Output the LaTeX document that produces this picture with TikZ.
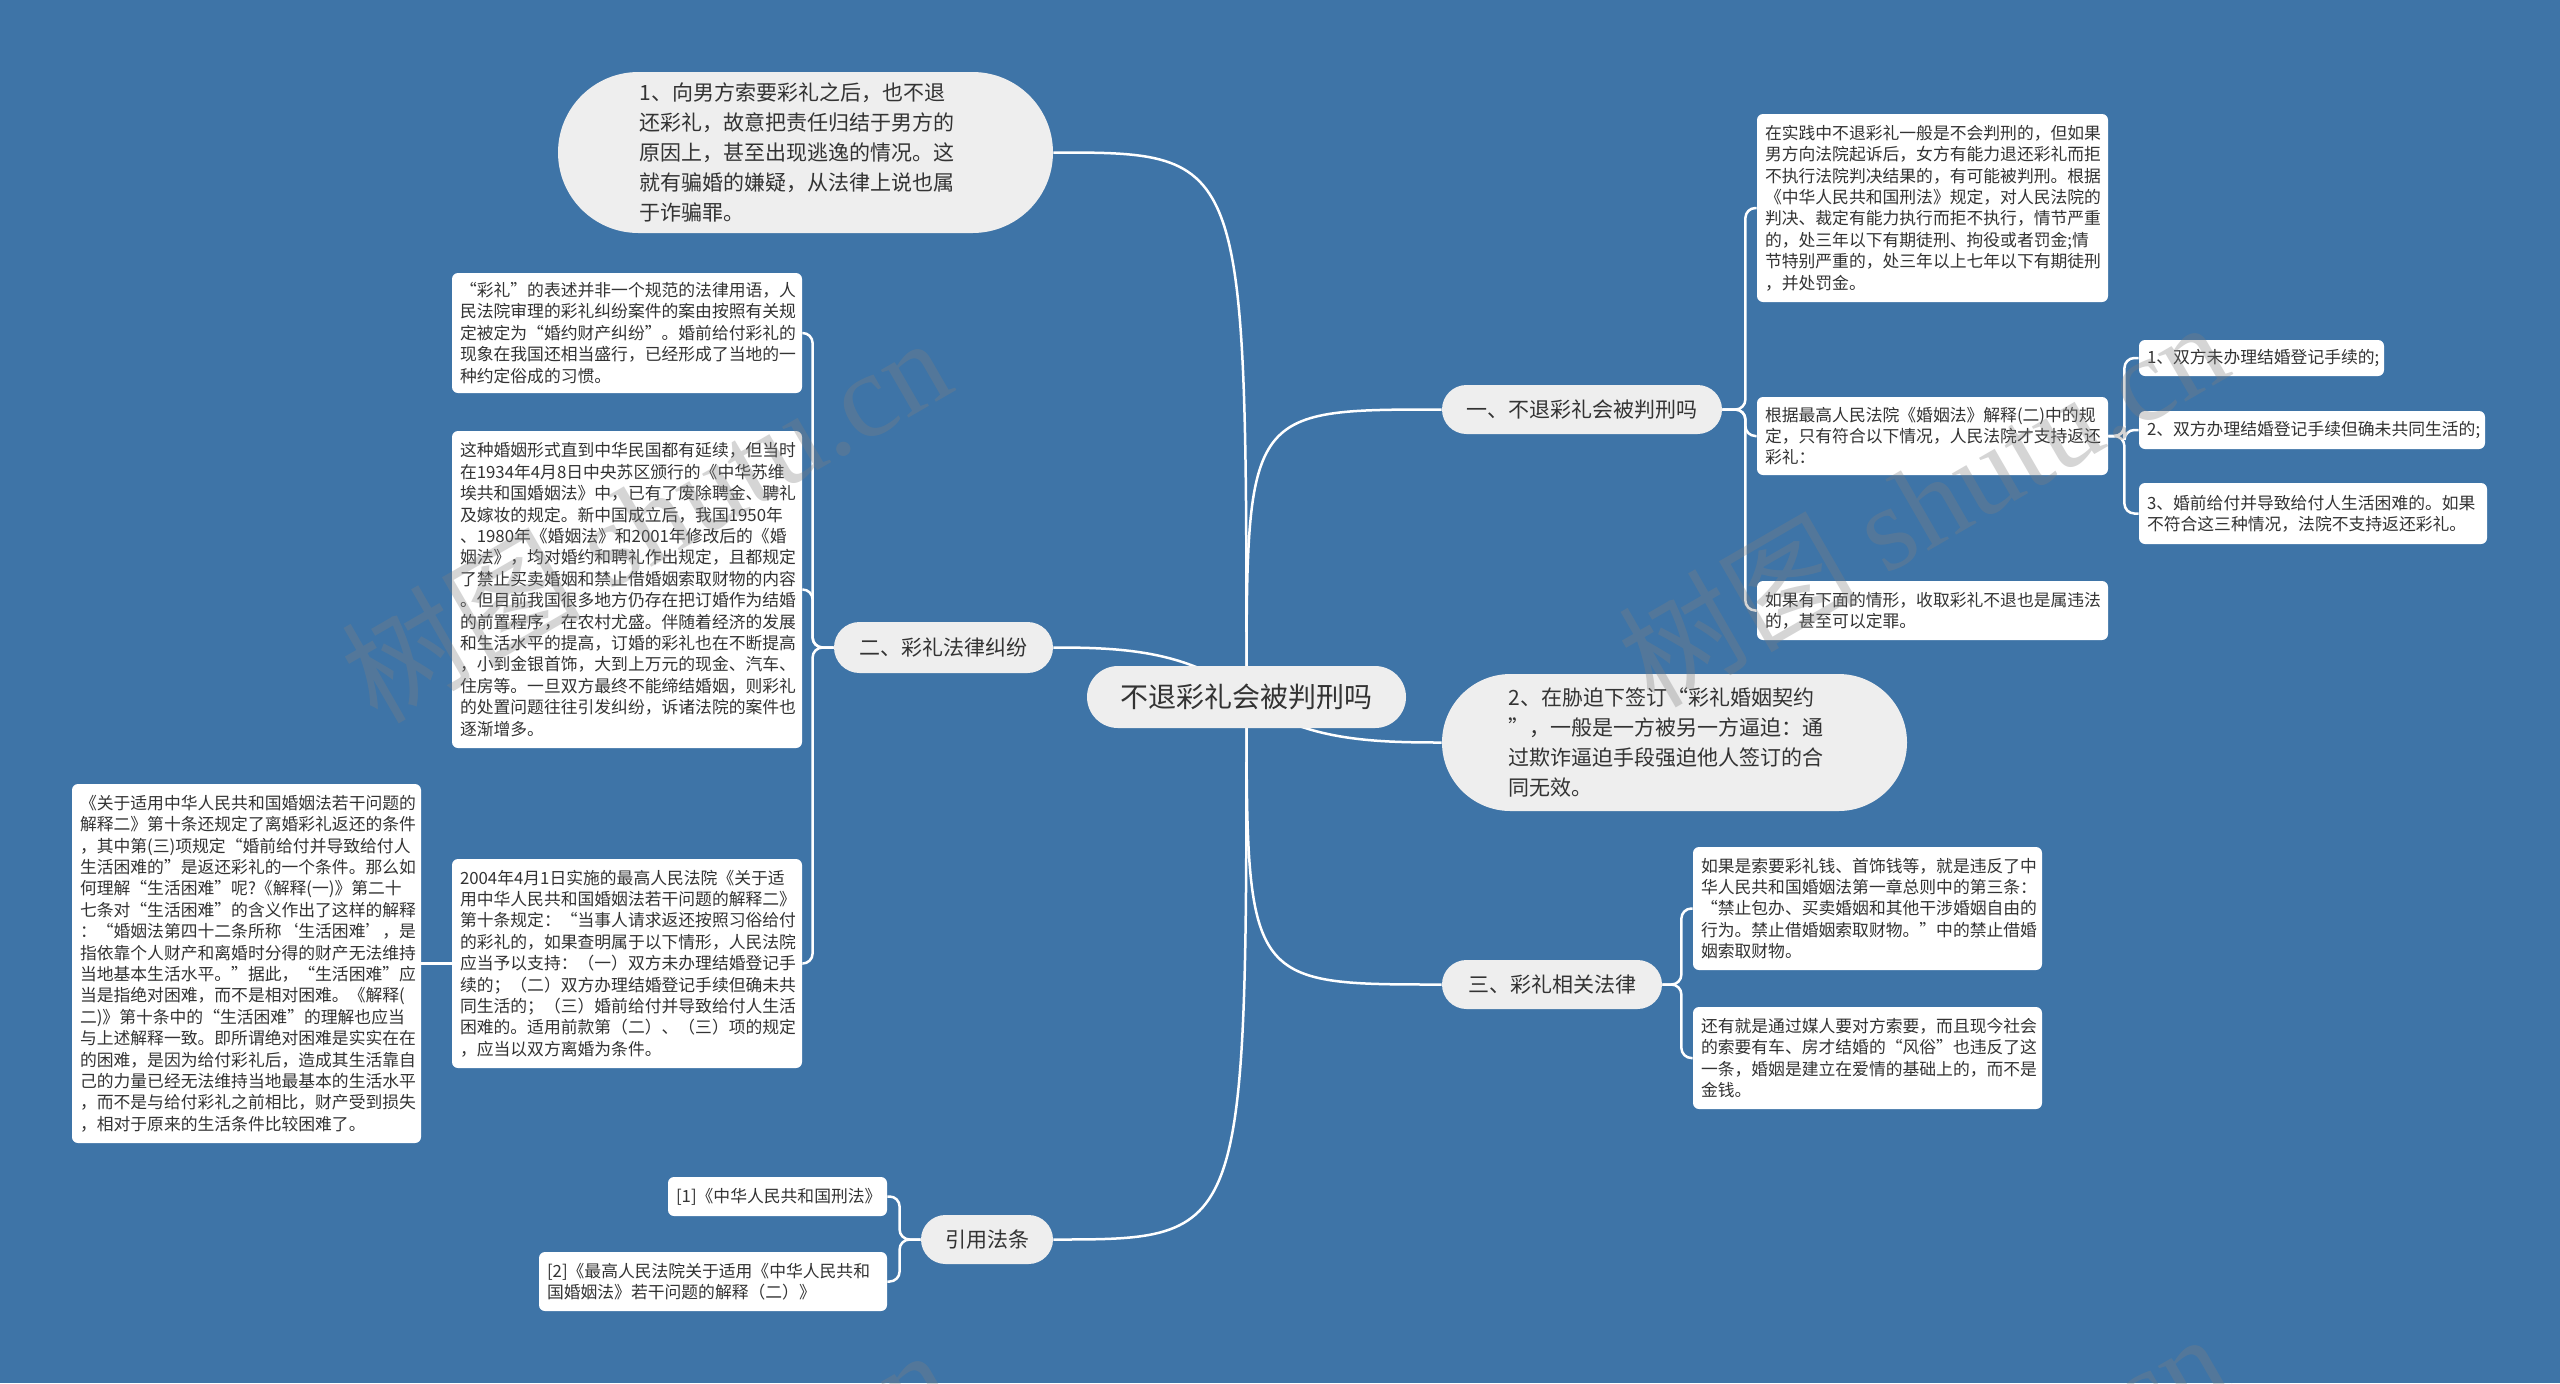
\documentclass[tikz,border=0pt]{standalone}
\usepackage{fontspec}
\setmainfont{Noto Sans CJK SC}
\newfontfamily\wmlatin{Liberation Serif}
\usetikzlibrary{shapes.misc}
\definecolor{bgc}{HTML}{3E74A7}
\definecolor{pillc}{HTML}{EEEEEE}
\definecolor{txtc}{HTML}{333333}
\pgfdeclarelayer{bglayer}
\pgfdeclarelayer{linelayer}
\pgfdeclarelayer{wmlayer}
\pgfsetlayers{bglayer,linelayer,main,wmlayer}
\tikzset{
 conn/.style={draw=white, line width=1.25pt, rounded corners=5pt},
 connc/.style={draw=white, line width=1.25pt},
 leaf/.style={fill=white, rounded corners=3pt, inner xsep=4pt, inner ysep=0pt, align=left, text=txtc, font=\fontsize{8.4pt}{10.7pt}\selectfont},
 lone/.style={rounded rectangle, fill=pillc, text=txtc, inner sep=0pt, font=\fontsize{10.5pt}{12pt}\selectfont},
 bigpill/.style={rounded rectangle, fill=pillc, text=txtc, inner sep=0pt, align=left, text width=166pt, font=\fontsize{10.5pt}{14.9pt}\selectfont},
 wmark/.style={text=gray, text opacity=0.33, rotate=30, font=\fontsize{60pt}{60pt}\selectfont, inner sep=0pt}
}
\begin{document}
\begin{tikzpicture}[x=0.5pt,y=-0.5pt]
\begin{pgfonlayer}{bglayer}
\fill[bgc] (0,0) rectangle (2560,1383);
\end{pgfonlayer}
\useasboundingbox (0,0) rectangle (2560,1383);

% central and first level
\node[lone, minimum width=159.5pt, minimum height=31pt, font=\fontsize{14pt}{16pt}\selectfont] (root) at (1246.5,697) {不退彩礼会被判刑吗};
\node[bigpill, minimum width=247.5pt, minimum height=80.5pt] (t1) at (805.5,152.5) {1、向男方索要彩礼之后，也不退\\还彩礼，故意把责任归结于男方的\\原因上，甚至出现逃逸的情况。这\\就有骗婚的嫌疑，从法律上说也属\\于诈骗罪。};
\node[bigpill, minimum width=232.5pt, minimum height=68.5pt] (r0) at (1674.5,742.5) {2、在胁迫下签订“彩礼婚姻契约\\”，一般是一方被另一方逼迫：通\\过欺诈逼迫手段强迫他人签订的合\\同无效。};
\node[lone, minimum width=140pt, minimum height=24.5pt] (one) at (1582,409.5) {一、不退彩礼会被判刑吗};
\node[lone, minimum width=109.5pt, minimum height=25.5pt] (two) at (943.5,647.5) {二、彩礼法律纠纷};
\node[lone, minimum width=110pt, minimum height=24.5pt] (three) at (1552,984.5) {三、彩礼相关法律};
\node[lone, minimum width=66pt, minimum height=24.5pt] (cite) at (987,1239.5) {引用法条};

% left leaves
\node[leaf, minimum width=175pt, minimum height=60pt, text width=167pt] (l1) at (627,333) {“彩礼”的表述并非一个规范的法律用语，人\\民法院审理的彩礼纠纷案件的案由按照有关规\\定被定为“婚约财产纠纷”。婚前给付彩礼的\\现象在我国还相当盛行，已经形成了当地的一\\种约定俗成的习惯。};
\node[leaf, minimum width=175pt, minimum height=158.5pt, text width=167pt] (l2) at (627,589.5) {这种婚姻形式直到中华民国都有延续，但当时\\在1934年4月8日中央苏区颁行的《中华苏维\\埃共和国婚姻法》中，已有了废除聘金、聘礼\\及嫁妆的规定。新中国成立后，我国1950年\\、1980年《婚姻法》和2001年修改后的《婚\\姻法》，均对婚约和聘礼作出规定，且都规定\\了禁止买卖婚姻和禁止借婚姻索取财物的内容\\。但目前我国很多地方仍存在把订婚作为结婚\\的前置程序，在农村尤盛。伴随着经济的发展\\和生活水平的提高，订婚的彩礼也在不断提高\\，小到金银首饰，大到上万元的现金、汽车、\\住房等。一旦双方最终不能缔结婚姻，则彩礼\\的处置问题往往引发纠纷，诉诸法院的案件也\\逐渐增多。};
\node[leaf, minimum width=175pt, minimum height=104.5pt, text width=167pt] (l3) at (627,963.5) {2004年4月1日实施的最高人民法院《关于适\\用中华人民共和国婚姻法若干问题的解释二》\\第十条规定：“当事人请求返还按照习俗给付\\的彩礼的，如果查明属于以下情形，人民法院\\应当予以支持：（一）双方未办理结婚登记手\\续的；（二）双方办理结婚登记手续但确未共\\同生活的；（三）婚前给付并导致给付人生活\\困难的。适用前款第（二）、（三）项的规定\\，应当以双方离婚为条件。};
\node[leaf, minimum width=174.5pt, minimum height=179.5pt, text width=166.5pt] (l4) at (246.5,963.5) {《关于适用中华人民共和国婚姻法若干问题的\\解释二》第十条还规定了离婚彩礼返还的条件\\，其中第(三)项规定“婚前给付并导致给付人\\生活困难的”是返还彩礼的一个条件。那么如\\何理解“生活困难”呢?《解释(一)》第二十\\七条对“生活困难”的含义作出了这样的解释\\：“婚姻法第四十二条所称‘生活困难’，是\\指依靠个人财产和离婚时分得的财产无法维持\\当地基本生活水平。”据此，“生活困难”应\\当是指绝对困难，而不是相对困难。《解释(\\二)》第十条中的“生活困难”的理解也应当\\与上述解释一致。即所谓绝对困难是实实在在\\的困难，是因为给付彩礼后，造成其生活靠自\\己的力量已经无法维持当地最基本的生活水平\\，而不是与给付彩礼之前相比，财产受到损失\\，相对于原来的生活条件比较困难了。};

% right leaves
\node[leaf, minimum width=175.5pt, minimum height=94pt, text width=167.5pt] (ra) at (1932.5,208) {在实践中不退彩礼一般是不会判刑的，但如果\\男方向法院起诉后，女方有能力退还彩礼而拒\\不执行法院判决结果的，有可能被判刑。根据\\《中华人民共和国刑法》规定，对人民法院的\\判决、裁定有能力执行而拒不执行，情节严重\\的，处三年以下有期徒刑、拘役或者罚金;情\\节特别严重的，处三年以上七年以下有期徒刑\\，并处罚金。};
\node[leaf, minimum width=175.5pt, minimum height=39pt, text width=167.5pt] (rb) at (1932.5,436) {根据最高人民法院《婚姻法》解释(二)中的规\\定，只有符合以下情况，人民法院才支持返还\\彩礼：};
\node[leaf, minimum width=175.5pt, minimum height=29.5pt, text width=167.5pt] (rc) at (1932.5,610.5) {如果有下面的情形，收取彩礼不退也是属违法\\的，甚至可以定罪。};
\node[leaf, minimum width=122.5pt, minimum height=18pt, text width=114.5pt] (rb1) at (2261.5,358) {1、双方未办理结婚登记手续的;};
\node[leaf, minimum width=173pt, minimum height=19pt, text width=165pt] (rb2) at (2312,430) {2、双方办理结婚登记手续但确未共同生活的;};
\node[leaf, minimum width=174pt, minimum height=30.5pt, text width=166pt] (rb3) at (2313,513.5) {3、婚前给付并导致给付人生活困难的。如果\\不符合这三种情况，法院不支持返还彩礼。};
\node[leaf, minimum width=174.5pt, minimum height=61.5pt, text width=166.5pt] (s1) at (1867.5,908.5) {如果是索要彩礼钱、首饰钱等，就是违反了中\\华人民共和国婚姻法第一章总则中的第三条：\\“禁止包办、买卖婚姻和其他干涉婚姻自由的\\行为。禁止借婚姻索取财物。”中的禁止借婚\\姻索取财物。};
\node[leaf, minimum width=174.5pt, minimum height=51pt, text width=166.5pt] (s2) at (1867.5,1058) {还有就是通过媒人要对方索要，而且现今社会\\的索要有车、房才结婚的“风俗”也违反了这\\一条，婚姻是建立在爱情的基础上的，而不是\\金钱。};
\node[leaf, minimum width=109.5pt, minimum height=19.5pt, text width=101.5pt] (c1) at (777.5,1196.5) {[1]《中华人民共和国刑法》};
\node[leaf, minimum width=174pt, minimum height=29.5pt, text width=166pt] (c2) at (713,1281.5) {[2]《最高人民法院关于适用《中华人民共和\\国婚姻法》若干问题的解释（二）》};

% connectors
\begin{pgfonlayer}{linelayer}
\draw[connc] (root.center) .. controls (root.center |- t1.east) .. (t1.east);
\draw[connc] (root.center) .. controls (root.center |- one.west) .. (one.west);
\draw[connc] (root.center) .. controls (root.center |- three.west) .. (three.west);
\draw[connc] (root.center) .. controls (root.center |- cite.east) .. (cite.east);
\draw[connc] (root.center) .. controls (1190,650) and (1120,647.5) .. (two.east);
\draw[connc] (root.center) .. controls (1300,740) and (1370,742.5) .. (r0.west);
\draw[conn] (two.west) -- ++(-21,0) |- (l1.east);
\draw[conn] (two.west) -- ++(-21,0) |- (l2.east);
\draw[conn] (two.west) -- ++(-21,0) |- (l3.east);
\draw[conn] (l4.east) -- (l3.west);
\draw[conn] (one.east) -- ++(23,0) |- (ra.west);
\draw[conn] (one.east) -- ++(23,0) |- (rb.west);
\draw[conn] (one.east) -- ++(23,0) |- (rc.west);
\draw[conn] (rb.east) -- ++(16,0) |- (rb1.west);
\draw[conn] (rb.east) -- ++(16,0) |- (rb2.west);
\draw[conn] (rb.east) -- ++(16,0) |- (rb3.west);
\draw[conn] (three.east) -- ++(19,0) |- (s1.west);
\draw[conn] (three.east) -- ++(19,0) |- (s2.west);
\draw[conn] (cite.west) -- ++(-21,0) |- (c1.east);
\draw[conn] (cite.west) -- ++(-21,0) |- (c2.east);
\end{pgfonlayer}

% watermarks
\begin{pgfonlayer}{wmlayer}
\begin{scope}
\clip (0,0) rectangle (2560,1383);
\node[wmark] (w1) at (645,518) {树图 {\wmlatin shutu.cn}};
\node[wmark] (w2) at (1922,502) {树图 {\wmlatin shutu.cn}};
\node[wmark] (w3) at (645,1530) {树图 {\wmlatin shutu.cn}};
\node[wmark] (w4) at (1922,1514) {树图 {\wmlatin shutu.cn}};
\end{scope}
\end{pgfonlayer}
\end{tikzpicture}
\end{document}
